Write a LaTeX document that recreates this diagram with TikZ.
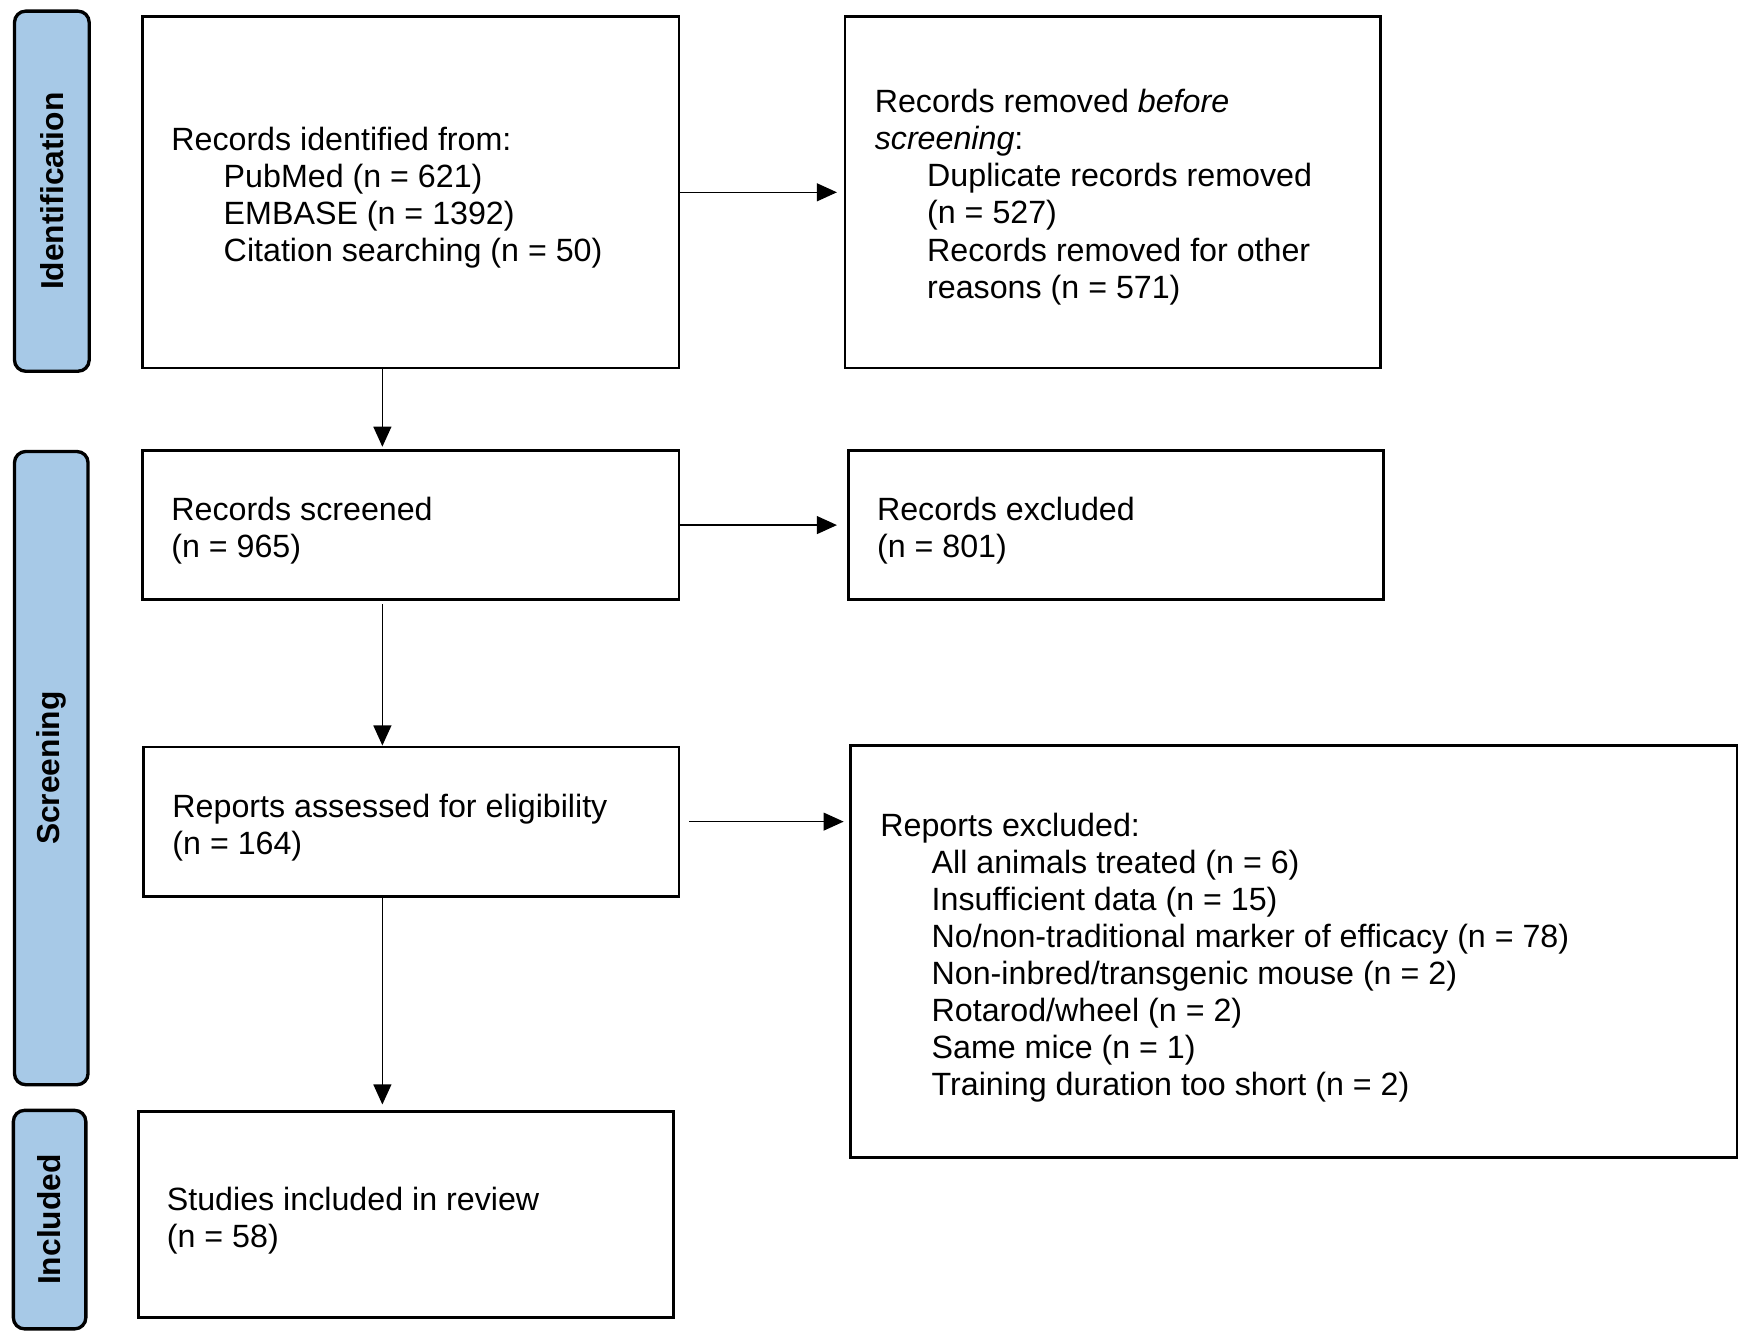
\documentclass[tikz,border=0pt]{standalone}
\usepackage{fontspec}
\setmainfont{Liberation Sans}
\usetikzlibrary{arrows.meta}
\definecolor{sideblue}{RGB}{167,201,231}
\begin{document}
\begin{tikzpicture}[
  box/.style={draw=black, line width=0.7pt, fill=white, inner sep=0pt, rectangle},
  side/.style={draw=black, line width=0.85pt, fill=sideblue, rounded corners=0.1cm, inner sep=0pt, rotate=90, font=\fontsize{8.1}{9.5}\selectfont\bfseries},
  txt/.style={anchor=base west, inner sep=0pt, font=\fontsize{8.22}{9.47}\selectfont},
  arr/.style={line width=0.4pt, -{Triangle[length=0.18cm, width=0.16cm]}}
]
\useasboundingbox (0,0) rectangle (15.68,-12.03);
% side labels
\node[side, minimum width=3.23cm, minimum height=0.67cm] (s1) at (0.465,-1.715) {Identification};
\node[side, minimum width=5.68cm, minimum height=0.66cm] (s2) at (0.46,-6.89) {Screening};
\node[side, minimum width=1.96cm, minimum height=0.65cm] (s3) at (0.445,-10.94) {Included};
% boxes
\node[box, minimum width=4.81cm, minimum height=3.15cm] (b1) at (3.685,-1.725) {};
\node[box, minimum width=4.80cm, minimum height=3.15cm] (r1) at (9.98,-1.725) {};
\node[box, minimum width=4.81cm, minimum height=1.34cm] (b2) at (3.685,-4.71) {};
\node[box, minimum width=4.80cm, minimum height=1.34cm] (r2) at (10.01,-4.71) {};
\node[box, minimum width=4.80cm, minimum height=1.34cm] (b3) at (3.69,-7.37) {};
\node[box, minimum width=7.95cm, minimum height=3.69cm] (r3) at (11.605,-8.535) {};
\node[box, minimum width=4.80cm, minimum height=1.85cm] (b4) at (3.64,-10.895) {};
% texts
\node[txt] (t1) at (1.53,-1.35) {\vtop{\hbox{Records identified from:}\hbox{\hspace*{0.47cm}PubMed (n = 621)}\hbox{\hspace*{0.47cm}EMBASE (n = 1392)}\hbox{\hspace*{0.47cm}Citation searching (n = 50)}}};
\node[txt] (tr1) at (7.84,-1.01) {\vtop{\hbox{Records removed \textit{before}}\hbox{\textit{screening}:}\hbox{\hspace*{0.47cm}Duplicate records removed}\hbox{\hspace*{0.47cm}(n = 527)}\hbox{\hspace*{0.47cm}Records removed for other}\hbox{\hspace*{0.47cm}reasons (n = 571)}}};
\node[txt] (t2) at (1.53,-4.67) {\vtop{\hbox{Records screened}\hbox{(n = 965)}}};
\node[txt] (tr2) at (7.86,-4.67) {\vtop{\hbox{Records excluded}\hbox{(n = 801)}}};
\node[txt] (t3) at (1.54,-7.33) {\vtop{\hbox{Reports assessed for eligibility}\hbox{(n = 164)}}};
\node[txt] (tr3) at (7.89,-7.50) {\vtop{\hbox{Reports excluded:}\hbox{\hspace*{0.46cm}All animals treated (n = 6)}\hbox{\hspace*{0.46cm}Insufficient data (n = 15)}\hbox{\hspace*{0.46cm}No/non-traditional marker of efficacy (n = 78)}\hbox{\hspace*{0.46cm}Non-inbred/transgenic mouse (n = 2)}\hbox{\hspace*{0.46cm}Rotarod/wheel (n = 2)}\hbox{\hspace*{0.46cm}Same mice (n = 1)}\hbox{\hspace*{0.46cm}Training duration too short (n = 2)}}};
\node[txt] (t4) at (1.49,-10.86) {\vtop{\hbox{Studies included in review}\hbox{(n = 58)}}};
% connectors
\coordinate (ax) at (3.43,0);
\draw[arr, shorten >=0.06cm] (b1.east) -- (r1.west);
\draw[arr, shorten >=0.09cm] (b2.east) -- (r2.west);
\draw[arr, shorten <=0.08cm, shorten >=0.05cm] (b3.east) -- (b3.east -| r3.west);
\draw[arr, shorten >=0.02cm] (b1.south -| ax) -- (b2.north -| ax);
\draw[arr, shorten <=0.03cm] (b2.south -| ax) -- (b3.north -| ax);
\draw[arr, shorten >=0.05cm] (b3.south -| ax) -- (b4.north -| ax);
\end{tikzpicture}
\end{document}
